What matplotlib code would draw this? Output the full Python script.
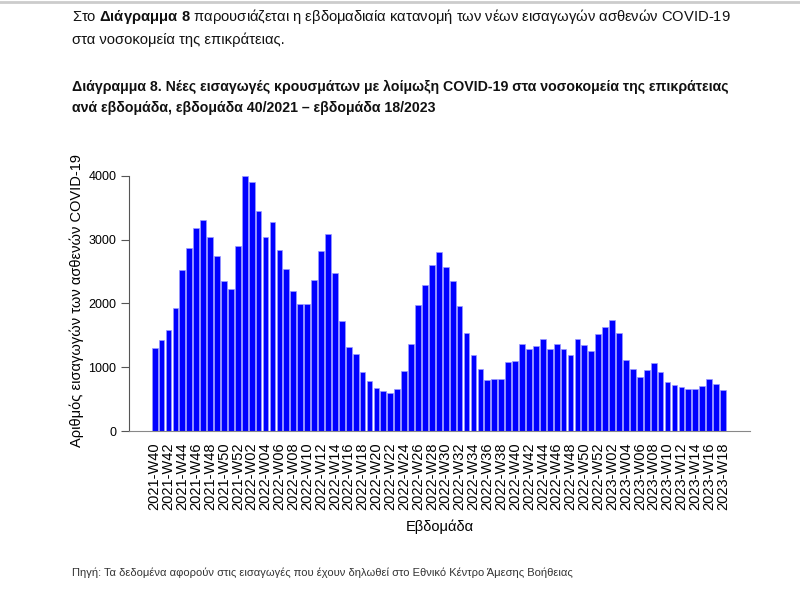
import matplotlib
matplotlib.use('Agg')
import matplotlib.pyplot as plt
import numpy as np

# εβδομάδες 40/2021 - 18/2023
weeks_2021 = [f'2021-W{w:02d}' for w in range(40, 53)]
weeks_2022 = [f'2022-W{w:02d}' for w in range(1, 53)]
weeks_2023 = [f'2023-W{w:02d}' for w in range(1, 19)]
weeks = weeks_2021 + weeks_2022 + weeks_2023

adm_2021 = [1300, 1430, 1580, 1930, 2520, 2870, 3180, 3310, 3040, 2740, 2350, 2220, 2900]
adm_2022 = [4000, 3910, 3450, 3050, 3280, 2840, 2540, 2190, 1990, 1990,
            2370, 2830, 3090, 2480, 1730, 1320, 1200, 920, 780, 670,
            630, 600, 660, 940, 1360, 1970, 2290, 2600, 2800, 2570,
            2350, 1960, 1540, 1190, 980, 800, 820, 820, 1080, 1100,
            1360, 1290, 1330, 1450, 1290, 1360, 1290, 1190, 1440, 1350,
            1250, 1520]
adm_2023 = [1630, 1740, 1540, 1110, 970, 850, 950, 1070, 920, 770,
            720, 690, 660, 660, 710, 820, 730, 640]
admissions = adm_2021 + adm_2022 + adm_2023

y_ticks = [0, 1000, 2000, 3000, 4000]

intro = 'Στο $\\mathbf{Διάγραμμα\\ 8}$ παρουσιάζεται η εβδομαδιαία κατανομή των νέων εισαγωγών ασθενών COVID-19\nστα νοσοκομεία της επικράτειας.'
title = 'Διάγραμμα 8. Νέες εισαγωγές κρουσμάτων με λοίμωξη COVID-19 στα νοσοκομεία της επικράτειας\nανά εβδομάδα, εβδομάδα 40/2021 – εβδομάδα 18/2023'
source = 'Πηγή: Τα δεδομένα αφορούν στις εισαγωγές που έχουν δηλωθεί στο Εθνικό Κέντρο Άμεσης Βοήθειας'

plt.rcParams['font.family'] = ['Liberation Sans', 'DejaVu Sans']
plt.rcParams['mathtext.fontset'] = 'custom'
plt.rcParams['mathtext.rm'] = 'Liberation Sans'
plt.rcParams['mathtext.bf'] = 'Liberation Sans:bold'

fig = plt.figure(figsize=(8, 6), dpi=100)
ax = fig.add_axes([129 / 800, (600 - 431) / 600, (750 - 129) / 800, (431 - 170) / 600])

x = np.arange(len(weeks))
ax.bar(x, admissions, width=0.83, color='#0000ff', edgecolor='#9a9aff', linewidth=0.5)

ax.set_xlim(-3.7, 85.9)
ax.set_ylim(0, 4094)
ax.set_yticks(y_ticks)
ax.set_yticklabels([str(t) for t in y_ticks], fontsize=9)
ax.set_xticks(x[::2])
ax.set_xticklabels(weeks[::2], rotation=90, fontsize=10.5)
ax.tick_params(axis='x', length=0, pad=8)
ax.tick_params(axis='y', length=6, width=0.8, color='#555555', pad=3)

for s in ['top', 'right']:
    ax.spines[s].set_visible(False)
ax.spines['left'].set_bounds(0, 4000)
ax.spines['left'].set_color('#555555')
ax.spines['bottom'].set_color('#888888')
ax.spines['left'].set_linewidth(0.8)
ax.spines['bottom'].set_linewidth(0.8)

ax.set_ylabel('Αριθμός εισαγωγών των ασθενών COVID-19', fontsize=10.5)
ax.yaxis.set_label_coords(-0.072, 0.5)
ax.set_xlabel('Εβδομάδα', fontsize=10.5, labelpad=7)

fig.text(72 / 800, 1 - 7 / 600, intro, fontsize=10.6, va='top', ha='left',
         linespacing=1.55, color='#111111')
fig.text(72 / 800, 1 - 80 / 600, title, fontsize=10.2, fontweight='bold',
         va='top', ha='left', linespacing=1.6, color='#111111')
fig.text(72 / 800, 1 - 573 / 600, source, fontsize=8, va='center', ha='left',
         color='#333333')

fig.add_artist(plt.Line2D([0, 1], [0.997, 0.997], color='#cccccc', linewidth=2,
                          transform=fig.transFigure))

fig.savefig('out.png', dpi=100)
